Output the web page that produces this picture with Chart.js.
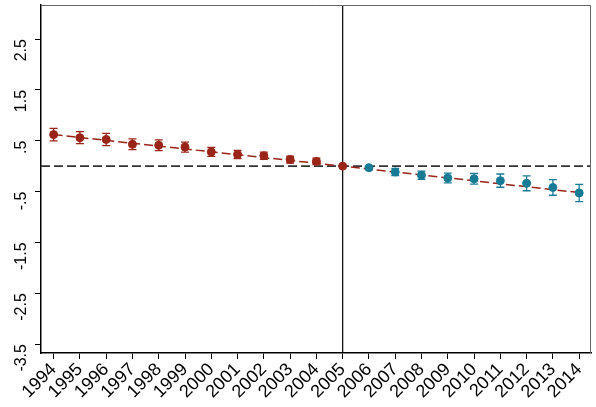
<!DOCTYPE html>
<html>
<head>
<meta charset="utf-8">
<script src="https://cdn.jsdelivr.net/npm/chart.js@4"></script>
<style>
  html, body { margin: 0; padding: 0; background: #fff; }
  #wrap { width: 596px; height: 407px; }
</style>
</head>
<body>
<div id="wrap"><canvas id="chart1"></canvas></div>
<script>

// event-study estimates, before and after 2005
const preYears  = [1994, 1995, 1996, 1997, 1998, 1999, 2000, 2001, 2002, 2003, 2004, 2005];
const preCoef   = [0.62, 0.56, 0.525, 0.43, 0.41, 0.375, 0.28, 0.23, 0.205, 0.13, 0.094, 0];
const preErr    = [0.124, 0.118, 0.12, 0.105, 0.105, 0.098, 0.088, 0.08, 0.07, 0.068, 0.065, 0];

const postYears = [2006, 2007, 2008, 2009, 2010, 2011, 2012, 2013, 2014];
const postCoef  = [-0.03, -0.115, -0.18, -0.233, -0.25, -0.285, -0.337, -0.42, -0.527];
const postErr   = [0.04, 0.07, 0.08, 0.095, 0.105, 0.13, 0.147, 0.153, 0.17];

// fitted trend through the whole period
const trendYears = [1994, 2005, 2014];
const trendVals  = [0.62, 0, -0.52];

const yearTicks = [];
for (let y = 1994; y <= 2014; y++) yearTicks.push(y);
const yTicks = [-3.5, -2.5, -1.5, -0.5, 0.5, 1.5, 2.5];

const eventYear = 2005;

const red = '#992417';
const blue = '#187b95';

function pts(xs, ys) {
    return xs.map(function (x, i) { return { x: x, y: ys[i] }; });
}

function fmtY(v) {
    let s = String(v);
    return s.replace(/^0\./, '.').replace(/^-0\./, '-.');
}

const refLines = {
    id: 'refLines',
    beforeDatasetsDraw: function (chart) {
        const ctx = chart.ctx;
        const a = chart.chartArea;
        const xs = chart.scales.x;
        const ys = chart.scales.y;

        ctx.save();
        // zero line
        ctx.strokeStyle = '#333';
        ctx.lineWidth = 1.8;
        ctx.setLineDash([9, 4]);
        const y0 = ys.getPixelForValue(0);
        ctx.beginPath();
        ctx.moveTo(a.left, y0);
        ctx.lineTo(a.right, y0);
        ctx.stroke();

        // event year
        ctx.setLineDash([]);
        ctx.strokeStyle = '#000';
        ctx.lineWidth = 1.2;
        const xe = xs.getPixelForValue(eventYear);
        ctx.beginPath();
        ctx.moveTo(xe, a.top);
        ctx.lineTo(xe, a.bottom);
        ctx.stroke();

        // confidence intervals
        function bars(xv, yv, ev, col) {
            ctx.strokeStyle = col;
            ctx.lineWidth = 1.3;
            xv.forEach(function (x, i) {
                if (!ev[i]) return;
                const px = xs.getPixelForValue(x);
                const hi = ys.getPixelForValue(yv[i] + ev[i]);
                const lo = ys.getPixelForValue(yv[i] - ev[i]);
                ctx.beginPath();
                ctx.moveTo(px, hi);
                ctx.lineTo(px, lo);
                ctx.moveTo(px - 4, hi);
                ctx.lineTo(px + 4, hi);
                ctx.moveTo(px - 4, lo);
                ctx.lineTo(px + 4, lo);
                ctx.stroke();
            });
        }
        bars(preYears, preCoef, preErr, red);
        bars(postYears, postCoef, postErr, blue);
        ctx.restore();
    },
    afterDraw: function (chart) {
        // top and right frame
        const ctx = chart.ctx;
        const a = chart.chartArea;
        ctx.save();
        ctx.strokeStyle = '#666';
        ctx.lineWidth = 1;
        ctx.beginPath();
        ctx.moveTo(a.left, a.top + 0.5);
        ctx.lineTo(a.right - 0.5, a.top + 0.5);
        ctx.lineTo(a.right - 0.5, a.bottom);
        ctx.stroke();
        ctx.restore();
    }
};

const chart1 = new Chart(document.getElementById('chart1'), {
    type: 'scatter',
    data: {
        datasets: [
            {
                type: 'line',
                data: pts(trendYears, trendVals),
                borderColor: red,
                borderWidth: 1.5,
                borderDash: [9, 4],
                pointRadius: 0,
                fill: false,
                order: 3
            },
            {
                data: pts(preYears, preCoef),
                backgroundColor: red,
                borderColor: red,
                pointRadius: 4,
                order: 1
            },
            {
                data: pts(postYears, postCoef),
                backgroundColor: blue,
                borderColor: blue,
                pointRadius: 4,
                order: 1
            }
        ]
    },
    options: {
        responsive: true,
        maintainAspectRatio: false,
        animation: false,
        layout: { padding: { top: 4, right: 5, left: 0, bottom: 0 } },
        plugins: {
            legend: { display: false },
            tooltip: { enabled: false }
        },
        scales: {
            x: {
                type: 'linear',
                min: 1993.52,
                max: 2014.45,
                afterBuildTicks: function (scale) {
                    scale.ticks = yearTicks.map(function (v) { return { value: v }; });
                },
                afterFit: function (scale) {
                    scale.height = 54;
                    scale.paddingLeft = 0;
                    scale.paddingRight = 0;
                },
                border: { color: '#000', width: 1.5 },
                grid: { drawOnChartArea: false, drawTicks: true, tickLength: 6, color: '#000', tickWidth: 1 },
                ticks: {
                    minRotation: 45,
                    maxRotation: 45,
                    autoSkip: false,
                    padding: 0,
                    color: '#000',
                    font: { family: 'Liberation Sans, Arial, sans-serif', size: 18 },
                    callback: function (v) { return String(v); }
                }
            },
            y: {
                min: -3.676,
                max: 3.17,
                afterBuildTicks: function (scale) {
                    scale.ticks = yTicks.map(function (v) { return { value: v }; });
                },
                afterFit: function (scale) {
                    scale.width = 41;
                    scale.paddingTop = 0;
                    scale.paddingBottom = 0;
                },
                border: { color: '#000', width: 1.5 },
                grid: { drawOnChartArea: false, drawTicks: true, tickLength: 6, color: '#000', tickWidth: 1 },
                ticks: {
                    minRotation: 90,
                    maxRotation: 90,
                    padding: 13,
                    color: '#000',
                    font: { family: 'Liberation Sans, Arial, sans-serif', size: 16 },
                    callback: function (v) { return fmtY(v); }
                }
            }
        }
    },
    plugins: [refLines]
});

</script>
</body>
</html>
